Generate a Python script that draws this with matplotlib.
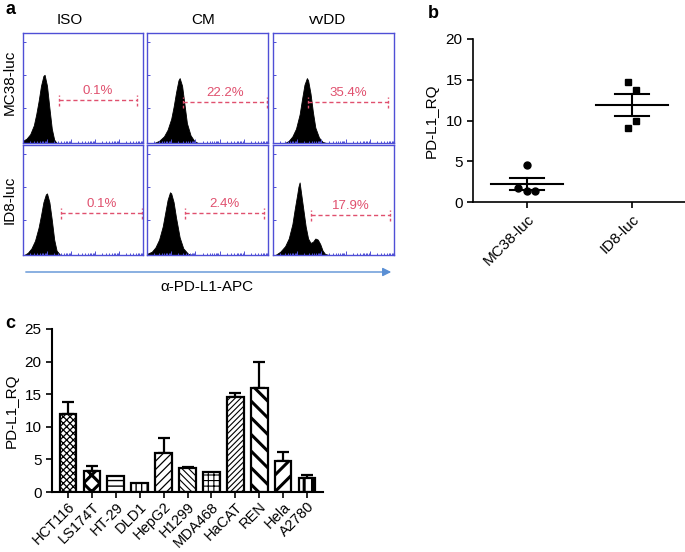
import numpy as np
import matplotlib
matplotlib.use("Agg")
import matplotlib.pyplot as plt
from matplotlib.patches import FancyArrowPatch

plt.rcParams['font.family'] = ['Liberation Sans', 'DejaVu Sans']

W, H = 685, 552
fig = plt.figure(figsize=(W / 100, H / 100), dpi=100)

# ---------------- data ----------------
conditions = ["ISO", "CM", "vvDD"]
cell_lines_a = ["MC38-luc", "ID8-luc"]
gate_pct = [["0.1%", "22.2%", "35.4%"],
            ["0.1%", "2.4%", "17.9%"]]

# histogram profiles (x in box fraction, height in box fraction)
hist_x_mc38_iso = [0.00, 0.03, 0.06, 0.09, 0.11, 0.13, 0.15, 0.17, 0.18, 0.20, 0.22, 0.24, 0.26, 0.28]
hist_h_mc38_iso = [0.02, 0.04, 0.08, 0.16, 0.26, 0.38, 0.52, 0.61, 0.62, 0.52, 0.32, 0.13, 0.03, 0.00]
hist_x_mc38_cm = [0.06, 0.10, 0.14, 0.17, 0.20, 0.22, 0.24, 0.26, 0.27, 0.29, 0.31, 0.33, 0.36, 0.39, 0.42]
hist_h_mc38_cm = [0.00, 0.02, 0.06, 0.12, 0.22, 0.33, 0.46, 0.57, 0.59, 0.52, 0.35, 0.18, 0.07, 0.02, 0.00]
hist_x_mc38_vv = [0.10, 0.13, 0.16, 0.19, 0.22, 0.24, 0.26, 0.28, 0.29, 0.31, 0.33, 0.35, 0.38, 0.41, 0.44]
hist_h_mc38_vv = [0.00, 0.02, 0.06, 0.13, 0.26, 0.40, 0.53, 0.59, 0.57, 0.45, 0.28, 0.14, 0.05, 0.01, 0.00]
hist_x_id8_iso = [0.01, 0.04, 0.07, 0.10, 0.13, 0.15, 0.17, 0.19, 0.20, 0.22, 0.24, 0.26, 0.28, 0.31]
hist_h_id8_iso = [0.00, 0.02, 0.06, 0.13, 0.25, 0.36, 0.48, 0.55, 0.56, 0.48, 0.32, 0.14, 0.04, 0.00]
hist_x_id8_cm = [0.00, 0.04, 0.07, 0.10, 0.13, 0.15, 0.17, 0.19, 0.20, 0.22, 0.24, 0.27, 0.30, 0.34, 0.38]
hist_h_id8_cm = [0.01, 0.03, 0.07, 0.14, 0.26, 0.38, 0.50, 0.57, 0.56, 0.48, 0.34, 0.16, 0.06, 0.01, 0.00]
hist_x_id8_vv = [0.02, 0.06, 0.10, 0.13, 0.16, 0.18, 0.20, 0.21, 0.22, 0.23, 0.25, 0.27, 0.29, 0.31,
                 0.33, 0.35, 0.37, 0.39, 0.41, 0.43, 0.46]
hist_h_id8_vv = [0.00, 0.03, 0.08, 0.15, 0.28, 0.42, 0.55, 0.62, 0.66, 0.58, 0.42, 0.26, 0.15, 0.11,
                 0.12, 0.15, 0.14, 0.10, 0.04, 0.01, 0.00]

hists = [[(hist_x_mc38_iso, hist_h_mc38_iso), (hist_x_mc38_cm, hist_h_mc38_cm), (hist_x_mc38_vv, hist_h_mc38_vv)],
         [(hist_x_id8_iso, hist_h_id8_iso), (hist_x_id8_cm, hist_h_id8_cm), (hist_x_id8_vv, hist_h_id8_vv)]]

# panel b
b_groups = ["MC38-luc", "ID8-luc"]
b_mc38 = [4.5, 1.7, 1.3, 1.4]
b_id8 = [14.7, 13.8, 10.0, 9.1]

# panel c
c_lines = ["HCT116", "LS174T", "HT-29", "DLD1", "HepG2", "H1299", "MDA468",
           "HaCAT", "REN", "Hela", "A2780"]
c_values = [12.0, 3.2, 2.5, 1.4, 6.0, 3.7, 3.0, 14.5, 16.0, 4.8, 2.2]
c_errors = [1.8, 0.8, 0.0, 0.0, 2.3, 0.1, 0.0, 0.7, 4.0, 1.3, 0.4]

# ---------------- helpers ----------------
def px_axes(x0, y0, x1, y1):
    return fig.add_axes([x0 / W, 1 - y1 / H, (x1 - x0) / W, (y1 - y0) / H])

BLUE = "#4f4fd6"
GATE = "#e0506e"
ARROW = "#5a8fd4"
FS = 11

# ---------------- panel a ----------------
col_px = [(23, 143), (147, 268), (273, 394)]
row_px = [(33, 143), (145, 255)]
gates = [[(0.30, 0.95, 0.39), (0.30, 0.99, 0.37), (0.29, 0.95, 0.37)],
         [(0.32, 0.99, 0.38), (0.31, 0.97, 0.38), (0.31, 0.97, 0.36)]]

xt_major = [(d) / 5 for d in range(6)]
xt_minor = [(d + np.log10(k)) / 5 for d in range(5) for k in range(2, 10)]

for r in range(2):
    for c in range(3):
        x0, x1 = col_px[c]
        y0, y1 = row_px[r]
        ax = px_axes(x0, y0, x1, y1)
        ax.set_xlim(0, 1)
        ax.set_ylim(0, 1)
        hx, hh = hists[r][c]
        ax.fill_between(hx, 0, hh, color="black", lw=0.6, edgecolor="black")
        g0, g1, gy = gates[r][c]
        ax.plot([g0, g1], [gy, gy], ls=(0, (3, 2)), color=GATE, lw=1.0)
        for gx in (g0, g1):
            ax.plot([gx, gx], [gy - 0.05, gy + 0.05], ls=(0, (2, 1.5)), color=GATE, lw=1.0)
        ax.text((g0 + g1) / 2, gy + 0.03, gate_pct[r][c], color=GATE,
                ha="center", va="bottom", fontsize=9.5)
        for s in ax.spines.values():
            s.set_color(BLUE)
            s.set_linewidth(1.0)
        ax.set_xticks(xt_major)
        ax.set_xticks(xt_minor, minor=True)
        ax.set_yticks([0.32, 0.62, 0.92])
        ax.tick_params(axis="both", which="both", direction="in", colors=BLUE,
                       labelleft=False, labelbottom=False, width=0.7)
        ax.tick_params(axis="x", which="major", length=3)
        ax.tick_params(axis="x", which="minor", length=1.8)
        ax.tick_params(axis="y", length=2)

for name, xc in zip(conditions, [70, 203, 328]):
    fig.text(xc / W, 1 - 20 / H, name, ha="center", va="center", fontsize=FS)
for name, yc in zip(cell_lines_a, [82, 200]):
    fig.text(10 / W, 1 - yc / H, name, ha="center", va="center", rotation=90, fontsize=FS)

arrow = FancyArrowPatch((23 / W, 1 - 272 / H), (394 / W, 1 - 272 / H),
                        transform=fig.transFigure, arrowstyle="-|>,head_length=5,head_width=2.5",
                        color=ARROW, lw=1.0)
fig.patches.append(arrow)
fig.text(207 / W, 1 - 287 / H, "α-PD-L1-APC", ha="center", va="center", fontsize=FS)

fig.text(5 / W, 1 - 9 / H, "a", ha="left", va="center", fontsize=13, fontweight="bold")
fig.text(428 / W, 1 - 14 / H, "b", ha="left", va="center", fontsize=13, fontweight="bold")
fig.text(5 / W, 1 - 323 / H, "c", ha="left", va="center", fontsize=13, fontweight="bold")

# ---------------- panel b ----------------
axb = px_axes(473, 39, 685, 202)
axb.set_xlim(-0.51, 1.5)
axb.set_ylim(0, 20)
offs_mc38 = [0.0, -0.08, 0.0, 0.08]
offs_id8 = [-0.04, 0.04, 0.04, -0.04]
axb.plot([0 + o for o in offs_mc38], b_mc38, "o", color="black", ms=5, zorder=3)
axb.plot([1 + o for o in offs_id8], b_id8, "s", color="black", ms=4.8, zorder=3)
for i, vals in enumerate([b_mc38, b_id8]):
    v = np.array(vals)
    m = v.mean()
    sem = v.std(ddof=1) / np.sqrt(len(v))
    axb.plot([i - 0.34, i + 0.34], [m, m], color="black", lw=1.5)
    axb.plot([i - 0.16, i + 0.16], [m + sem, m + sem], color="black", lw=1.5)
    axb.plot([i - 0.16, i + 0.16], [m - sem, m - sem], color="black", lw=1.5)
    axb.plot([i, i], [m - sem, m + sem], color="black", lw=1.5)
axb.set_xticks([0, 1])
axb.set_xticklabels(b_groups, rotation=45, ha="right", rotation_mode="anchor", fontsize=FS)
axb.set_yticks([0, 5, 10, 15, 20])
axb.tick_params(labelsize=FS, width=1.2, length=4)
axb.set_ylabel("PD-L1_RQ", fontsize=FS, labelpad=5)
axb.spines["top"].set_visible(False)
axb.spines["right"].set_visible(False)
for s in ("left", "bottom"):
    axb.spines[s].set_linewidth(1.2)

# ---------------- panel c ----------------
axc = px_axes(52, 329, 323, 492)
xs = np.arange(len(c_lines))
hatch_specs = [("xxxxx", 0.9), ("xx", 2.2), ("---", 1.0), ("|||", 1.0),
               ("////", 0.9), ("\\\\\\\\\\", 0.8), ("+++", 0.8), ("//////", 0.8),
               ("\\\\", 2.2), ("//", 2.2), ("||", 2.2)]
for i in range(len(c_lines)):
    hp, hlw = hatch_specs[i]
    with plt.rc_context({"hatch.linewidth": hlw}):
        bars = axc.bar(xs[i], c_values[i], width=0.7, color="white",
                       edgecolor="black", linewidth=1.6, hatch=hp, zorder=2)
    for b in bars:
        if hasattr(b, "set_hatch_linewidth"):
            b.set_hatch_linewidth(hlw)
    if c_errors[i] > 0:
        axc.errorbar(xs[i], c_values[i], yerr=[[0], [c_errors[i]]], fmt="none",
                     ecolor="black", elinewidth=1.6, capsize=4, capthick=1.6, zorder=1)
axc.set_xlim(-0.67, len(c_lines) - 1 + 0.67)
axc.set_ylim(0, 25)
axc.set_yticks([0, 5, 10, 15, 20, 25])
axc.set_xticks(xs)
axc.set_xticklabels(c_lines, rotation=45, ha="right", rotation_mode="anchor", fontsize=10.5)
axc.tick_params(labelsize=FS, width=1.2, length=4)
axc.tick_params(axis="x", pad=1.5, labelsize=10.5)
axc.set_ylabel("PD-L1_RQ", fontsize=FS, labelpad=4)
axc.spines["top"].set_visible(False)
axc.spines["right"].set_visible(False)
for s in ("left", "bottom"):
    axc.spines[s].set_linewidth(1.5)

fig.savefig("out.png", dpi=100)
